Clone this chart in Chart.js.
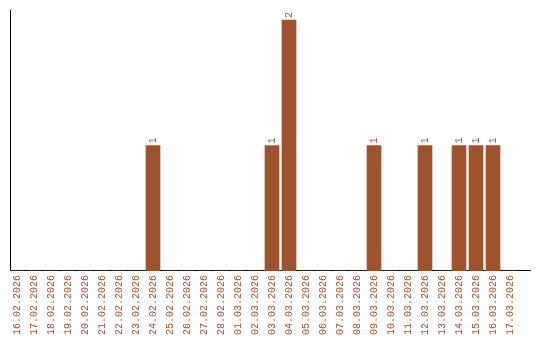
<!DOCTYPE html>
<html>
<head>
<meta charset="utf-8">
<script src="https://cdn.jsdelivr.net/npm/chart.js@4"></script>
<style>
  html, body { margin: 0; padding: 0; background: #fff; }
  #wrap { width: 540px; height: 340px; }
</style>
</head>
<body>
<div id="wrap"><canvas id="chart"></canvas></div>
<script>
const dates = [
    '16.02.2026', '17.02.2026', '18.02.2026', '19.02.2026', '20.02.2026',
    '21.02.2026', '22.02.2026', '23.02.2026', '24.02.2026', '25.02.2026',
    '26.02.2026', '27.02.2026', '28.02.2026', '01.03.2026', '02.03.2026',
    '03.03.2026', '04.03.2026', '05.03.2026', '06.03.2026', '07.03.2026',
    '08.03.2026', '09.03.2026', '10.03.2026', '11.03.2026', '12.03.2026',
    '13.03.2026', '14.03.2026', '15.03.2026', '16.03.2026', '17.03.2026'
];
const counts = [
    0, 0, 0, 0, 0, 0, 0, 0, 1, 0,
    0, 0, 0, 0, 0, 1, 2, 0, 0, 0,
    0, 1, 0, 0, 1, 0, 1, 1, 1, 0
];

const barColor = '#A0522D';
const fontFamily = '"Liberation Mono", monospace';

// value labels above the bars, rotated like the axis labels
const valueLabels = {
    id: 'valueLabels',
    afterDatasetsDraw(chart) {
        const ctx = chart.ctx;
        const meta = chart.getDatasetMeta(0);
        ctx.save();
        ctx.fillStyle = barColor;
        ctx.font = '10px ' + fontFamily;
        ctx.textAlign = 'left';
        ctx.textBaseline = 'middle';
        meta.data.forEach((bar, i) => {
            const v = counts[i];
            if (!v) return;
            ctx.save();
            ctx.translate(bar.x, bar.y - 2);
            ctx.rotate(-Math.PI / 2);
            ctx.fillText(String(v), 0, 0);
            ctx.restore();
        });
        ctx.restore();
    }
};

new Chart(document.getElementById('chart'), {
    type: 'bar',
    data: {
        datasets: [{
            data: counts.map((c, i) => ({ x: i, y: c })),
            backgroundColor: barColor,
            borderWidth: 0,
            barThickness: 14
        }]
    },
    options: {
        responsive: true,
        maintainAspectRatio: false,
        animation: false,
        layout: { padding: { left: 10, right: 10, top: 10, bottom: 1 } },
        plugins: { legend: { display: false }, tooltip: { enabled: false } },
        scales: {
            x: {
                type: 'linear',
                offset: false,
                min: -7 / 17,
                max: 513 / 17,
                grid: { display: false, drawTicks: false },
                border: { display: true, color: '#000', width: 1 },
                afterBuildTicks(scale) {
                    scale.ticks = dates.map((d, i) => ({ value: i }));
                },
                afterFit(scale) {
                    scale.paddingLeft = 0;
                    scale.paddingRight = 0;
                },
                ticks: {
                    autoSkip: false,
                    minRotation: 90,
                    maxRotation: 90,
                    padding: 4,
                    color: barColor,
                    font: { family: fontFamily, size: 10 },
                    callback: v => dates[v]
                }
            },
            y: {
                min: 0,
                max: 2.08,
                grid: { display: false, drawTicks: false },
                border: { display: true, color: '#000', width: 1 },
                ticks: { display: false }
            }
        }
    },
    plugins: [valueLabels]
});
</script>
</body>
</html>
